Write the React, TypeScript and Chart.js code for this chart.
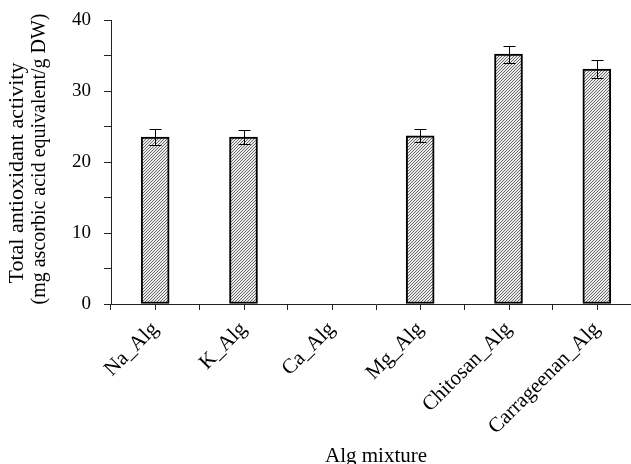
import { useEffect, useRef } from 'react';
import { Chart, registerables } from 'chart.js';

Chart.register(...registerables);

const categories = ['Na_Alg', 'K_Alg', 'Ca_Alg', 'Mg_Alg', 'Chitosan_Alg', 'Carrageenan_Alg'];
const values: (number | null)[] = [23.5, 23.5, null, 23.7, 35.2, 33.1];
const errors: (number | null)[] = [1.1, 1.0, null, 0.9, 1.2, 1.2];
const yMin = 0;
const yMax = 40;
const yStep = 5;
const yLabelStep = 10;
const yTitleLines = ['Total antioxidant activity', '(mg ascorbic acid equivalent/g DW)'];
const xTitle = 'Alg mixture';

const FONT = '"Liberation Serif", "DejaVu Serif", serif';

function makePattern(): CanvasPattern | string {
  const s = 3;
  const c = document.createElement('canvas');
  c.width = s;
  c.height = s;
  const g = c.getContext('2d');
  if (!g) return '#aaa';
  g.fillStyle = '#ececec';
  g.fillRect(0, 0, s, s);
  g.strokeStyle = '#5a5a5a';
  g.lineWidth = 0.9;
  g.beginPath();
  g.moveTo(0, s);
  g.lineTo(s, 0);
  g.moveTo(-1, 1);
  g.lineTo(1, -1);
  g.moveTo(s - 1, s + 1);
  g.lineTo(s + 1, s - 1);
  g.stroke();
  const p = g.createPattern(c, 'repeat');
  return p || '#aaa';
}

const errorBarsPlugin = {
  id: 'errorBars',
  afterDatasetsDraw(chart: any) {
    const ctx = chart.ctx;
    const meta = chart.getDatasetMeta(0);
    const y = chart.scales.y;
    ctx.save();
    ctx.strokeStyle = '#000';
    ctx.lineWidth = 1;
    meta.data.forEach((bar: any, i: number) => {
      const v = values[i];
      const e = errors[i];
      if (v == null || e == null) return;
      const x = Math.round(bar.x) + 0.5;
      const top = Math.round(y.getPixelForValue(v + e)) + 0.5;
      const bot = Math.round(y.getPixelForValue(v - e)) + 0.5;
      ctx.beginPath();
      ctx.moveTo(x, top);
      ctx.lineTo(x, bot);
      ctx.moveTo(x - 6, top);
      ctx.lineTo(x + 6, top);
      ctx.moveTo(x - 6, bot);
      ctx.lineTo(x + 6, bot);
      ctx.stroke();
    });
    ctx.restore();
  },
};

const centerTicksPlugin = {
  id: 'centerTicks',
  afterDraw(chart: any) {
    const ctx = chart.ctx;
    const xs = chart.scales.x;
    const b = chart.chartArea.bottom;
    ctx.save();
    ctx.strokeStyle = '#222';
    ctx.lineWidth = 1;
    categories.forEach((_, i) => {
      const x = Math.round(xs.getPixelForValue(i)) + 0.5;
      ctx.beginPath();
      ctx.moveTo(x, b);
      ctx.lineTo(x, b + 6);
      ctx.stroke();
    });
    ctx.restore();
  },
};

// y-axis title, two lines drawn rotated; each line is centred on its own position
const yTitlePlugin = {
  id: 'yTitle',
  afterDraw(chart: any) {
    const ctx = chart.ctx;
    const area = chart.chartArea;
    const mid = (area.top + area.bottom) / 2;
    const specs = [
      { text: yTitleLines[0], x: 17, dy: 11, size: 22 },
      { text: yTitleLines[1], x: 40, dy: -3, size: 20 },
    ];
    ctx.save();
    ctx.fillStyle = '#000';
    ctx.textAlign = 'center';
    ctx.textBaseline = 'middle';
    specs.forEach((s) => {
      ctx.save();
      ctx.translate(s.x, mid + s.dy);
      ctx.rotate(-Math.PI / 2);
      ctx.font = `${s.size}px ${FONT}`;
      ctx.fillText(s.text, 0, 0);
      ctx.restore();
    });
    ctx.restore();
  },
};

export default function App() {
  const ref = useRef<HTMLCanvasElement | null>(null);

  useEffect(() => {
    if (!ref.current) return;
    const pattern = makePattern();
    const chart = new Chart(ref.current, {
      type: 'bar',
      data: {
        labels: categories,
        datasets: [
          {
            data: values as any,
            backgroundColor: pattern as any,
            borderColor: '#000',
            borderWidth: 2,
            borderSkipped: false,
            barThickness: 28,
          },
        ],
      },
      options: {
        animation: false,
        responsive: true,
        maintainAspectRatio: false,
        layout: { padding: { left: 0, right: 19, top: 20, bottom: 0 } },
        plugins: {
          legend: { display: false },
          tooltip: { enabled: false },
        },
        scales: {
          x: {
            offset: true,
            grid: {
              display: true,
              drawOnChartArea: false,
              drawTicks: true,
              tickLength: 6,
              offset: true,
              color: '#222',
            },
            border: { display: true, color: '#222', width: 1 },
            ticks: {
              color: '#000',
              font: { family: FONT, size: 21 },
              minRotation: 45,
              maxRotation: 45,
              autoSkip: false,
              padding: 7,
            },
            title: {
              display: true,
              text: xTitle,
              color: '#000',
              font: { family: FONT, size: 21, lineHeight: 1 },
              padding: { top: 0, bottom: -3 },
            },
            afterFit(scale: any) {
              scale.height = 160;
            },
          },
          y: {
            min: yMin,
            max: yMax,
            grid: {
              display: true,
              drawOnChartArea: false,
              drawTicks: true,
              tickLength: 7,
              color: '#222',
            },
            border: { display: true, color: '#222', width: 1 },
            ticks: {
              stepSize: yStep,
              color: '#000',
              font: { family: FONT, size: 19 },
              padding: 13,
              callback: (v: any) => (Number(v) % yLabelStep === 0 ? String(v) : ''),
            },
            title: { display: false },
            afterFit(scale: any) {
              scale.width = 111;
              scale.paddingTop = 0;
              scale.paddingBottom = 0;
            },
          },
        },
      },
      plugins: [errorBarsPlugin, centerTicksPlugin, yTitlePlugin],
    });
    return () => chart.destroy();
  }, []);

  return (
    <div
      style={{
        position: 'absolute',
        left: 0,
        top: 0,
        width: 631,
        height: 464,
        overflow: 'hidden',
        background: '#fff',
      }}
    >
      <div style={{ position: 'relative', width: 660, height: 464 }}>
        <canvas ref={ref} />
      </div>
    </div>
  );
}
